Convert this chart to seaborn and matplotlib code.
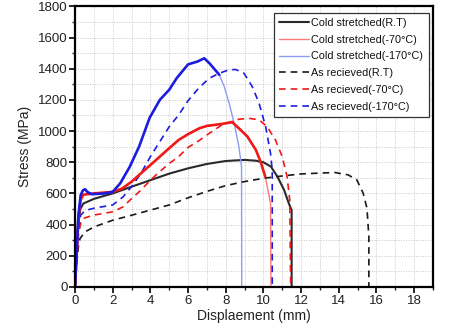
import matplotlib
matplotlib.use("Agg")
import matplotlib.pyplot as plt
import seaborn as sns
import pandas as pd
from matplotlib.ticker import MultipleLocator

# ---------------- data ----------------
cs_rt_x = [0, 0.06, 0.15, 0.28, 0.44, 1.0, 2.0, 3.0, 4.0, 5.0, 6.0, 7.0, 8.0, 9.0, 9.6, 10.0, 10.4, 10.75, 11.1, 11.35, 11.5, 11.5]
cs_rt_y = [0, 150, 380, 500, 535, 565, 600, 643, 685, 727, 761, 789, 808, 815, 810, 800, 772, 707, 622, 536, 493, 0]

cs_70_x = [0, 0.08, 0.18, 0.3, 0.44, 1.0, 2.0, 2.5, 3.0, 3.5, 4.0, 4.5, 5.0, 5.5, 6.0, 6.6, 7.0, 7.8, 8.35, 8.7, 9.15, 9.6, 9.85, 10.1, 10.38, 10.4]
cs_70_y = [0, 200, 440, 560, 592, 600, 610, 631, 675, 729, 782, 836, 890, 943, 980, 1018, 1033, 1046, 1057, 1018, 965, 879, 804, 708, 537, 0]

cs_170_x = [0, 0.08, 0.18, 0.3, 0.42, 0.53, 0.65, 0.88, 1.2, 1.6, 2.0, 2.4, 2.9, 3.4, 3.96, 4.5, 5.0, 5.4, 6.0, 6.5, 6.86, 7.13, 7.66, 7.92, 8.18, 8.45, 8.7, 8.84, 8.85]
cs_170_y = [0, 210, 460, 590, 620, 627, 610, 595, 597, 600, 610, 665, 770, 900, 1085, 1200, 1265, 1340, 1428, 1446, 1467, 1436, 1361, 1286, 1179, 1050, 900, 772, 0]

ar_rt_x = [0, 0.08, 0.18, 0.26, 0.53, 1.0, 2.0, 3.0, 4.0, 5.0, 6.0, 7.0, 8.0, 9.0, 10.0, 11.0, 12.0, 12.9, 13.8, 14.5, 14.96, 15.3, 15.5, 15.6, 15.6]
ar_rt_y = [0, 140, 260, 310, 353, 385, 428, 460, 493, 526, 572, 613, 650, 676, 697, 712, 725, 730, 734, 719, 687, 601, 505, 323, 0]

ar_70_x = [0, 0.08, 0.18, 0.3, 0.44, 1.0, 2.0, 2.55, 3.0, 3.5, 4.0, 4.5, 5.0, 5.5, 6.0, 6.6, 7.0, 7.8, 8.7, 9.24, 9.77, 10.2, 10.64, 11.0, 11.26, 11.4, 11.45]
ar_70_y = [0, 170, 330, 410, 440, 461, 482, 514, 567, 621, 685, 740, 792, 836, 895, 940, 975, 1040, 1076, 1082, 1072, 1029, 943, 836, 707, 557, 0]

ar_170_x = [0, 0.08, 0.18, 0.3, 0.53, 1.0, 2.0, 2.55, 3.0, 3.5, 4.0, 4.5, 5.0, 5.5, 6.0, 6.6, 7.13, 7.66, 8.18, 8.53, 8.97, 9.41, 9.77, 10.12, 10.38, 10.47, 10.47]
ar_170_y = [0, 190, 370, 460, 490, 505, 526, 578, 643, 729, 836, 932, 1028, 1103, 1195, 1280, 1339, 1371, 1393, 1395, 1371, 1285, 1179, 1029, 857, 750, 0]

labels = ["Cold stretched(R.T)",
          "Cold stretched(-70°C)",
          "Cold stretched(-170°C)",
          "As recieved(R.T)",
          "As recieved(-70°C)",
          "As recieved(-170°C)"]

x_ticks = [0, 2, 4, 6, 8, 10, 12, 14, 16, 18]
y_ticks = [0, 200, 400, 600, 800, 1000, 1200, 1400, 1600, 1800]

# ---------------- style ----------------
sns.set_style("white")
plt.rcParams['font.family'] = ['Liberation Sans', 'DejaVu Sans']

fig = plt.figure(figsize=(4.69, 3.36), dpi=100)
ax = fig.add_axes([0.160, 0.146, 0.763, 0.835])

DASH = (0, (4, 3))
series = [
    (cs_rt_x, cs_rt_y, "#2a2a2a", "-", 1.5),
    (cs_70_x, cs_70_y, "#ff7878", "-", 1.0),
    (cs_170_x, cs_170_y, "#8c9cf4", "-", 1.0),
    (ar_rt_x, ar_rt_y, "#1a1a1a", DASH, 1.2),
    (ar_70_x, ar_70_y, "#f01818", DASH, 1.2),
    (ar_170_x, ar_170_y, "#1c1ce0", DASH, 1.2),
]

for (xs, ys, c, ls, lw), lab in zip(series, labels):
    df = pd.DataFrame({"x": xs, "y": ys})
    sns.lineplot(data=df, x="x", y="y", ax=ax, sort=False, estimator=None,
                 color=c, linestyle=ls, linewidth=lw, label=lab)

# thick (noisy-looking) loading parts of the cold stretched curves
n70 = cs_70_x.index(10.1) + 1
n170 = cs_170_x.index(7.66) + 1
sns.lineplot(x=cs_70_x[:n70], y=cs_70_y[:n70], ax=ax, sort=False, estimator=None,
             color="#f01818", linewidth=1.9, label="_nolegend_")
sns.lineplot(x=cs_170_x[:n170], y=cs_170_y[:n170], ax=ax, sort=False, estimator=None,
             color="#1c1ce0", linewidth=1.9, label="_nolegend_")

ax.set_xlim(0, 19)
ax.set_ylim(0, 1800)
ax.set_xticks(x_ticks)
ax.set_yticks(y_ticks)
ax.xaxis.set_minor_locator(MultipleLocator(1))
ax.yaxis.set_minor_locator(MultipleLocator(100))
ax.grid(True, which="both", color="#c8c8c8", linestyle=(0, (1, 1.5)), linewidth=0.7)
ax.set_axisbelow(True)

for s in ax.spines.values():
    s.set_visible(True)
    s.set_color("black")
    s.set_linewidth(1.6)

ax.tick_params(axis="both", which="major", direction="out", length=4, width=1.2,
               labelsize=9.5, colors="black", labelcolor="#222222", pad=1.5,
               bottom=True, left=True, top=False, right=False)
ax.tick_params(axis="both", which="minor", direction="out", length=2.5, width=1.0,
               bottom=True, left=True, top=False, right=False)

ax.set_xlabel("Displaement (mm)", fontsize=10, color="#222222", labelpad=2)
ax.set_ylabel("Stress (MPa)", fontsize=10, color="#222222", labelpad=4)

handles, labs = ax.get_legend_handles_labels()
leg = ax.legend(handles[:6], labs[:6], loc="upper right", bbox_to_anchor=(0.988, 0.978),
                borderaxespad=0, fontsize=7.8, frameon=True, fancybox=False,
                edgecolor="#333333", framealpha=1, labelspacing=0.62,
                handlelength=2.7, handletextpad=0.25, borderpad=0.5)
leg.get_frame().set_linewidth(0.9)
for t in leg.get_texts():
    t.set_color("#111111")

fig.savefig("out.png", dpi=100)
